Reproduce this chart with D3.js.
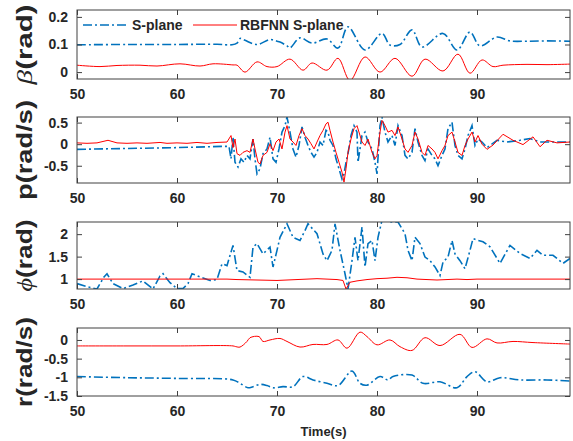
<!DOCTYPE html>
<html>
<head>
<meta charset="utf-8">
<script src="https://cdn.jsdelivr.net/npm/d3@7/dist/d3.min.js"></script>
<style>
  body { margin: 0; background: #fff; }
  text { font-family: Arial, "Liberation Sans", sans-serif; fill: #262626; }
</style>
</head>
<body>
<div id="chart"></div>
<script>
// ---- data ----
const xTicks = [50, 60, 70, 80, 90];

// beta (rad)
const betaSTime = [50, 55, 60, 64, 65.5, 66, 66.3, 66.8, 68, 69.3, 70, 70.3, 71, 71.3, 72.3, 73.5, 75, 76.1, 77.1, 78.8, 80.5, 81.3, 82.3, 83.5, 84.5, 86.6, 88, 89.3, 90.3, 92, 93.3, 95, 97, 99.3];
const betaS = [0.099, 0.1, 0.1, 0.101, 0.099, 0.105, 0.122, 0.115, 0.1, 0.118, 0.112, 0.109, 0.095, 0.088, 0.124, 0.105, 0.12, 0.087, 0.164, 0.08, 0.14, 0.098, 0.1, 0.153, 0.091, 0.14, 0.08, 0.145, 0.095, 0.127, 0.113, 0.112, 0.113, 0.112];
const betaRTime = [50, 52.3, 54, 56.3, 58, 60.3, 62.3, 63.6, 65.6, 66, 66.8, 68, 69, 70, 71.3, 72.6, 73.5, 75, 76.1, 77.3, 78.8, 80.3, 81.8, 83.5, 84.8, 86.6, 88.1, 89.3, 90.5, 91.6, 92.6, 95, 97, 99.3];
const betaR = [0.025, 0.02, 0.024, 0.025, 0.022, 0.03, 0.022, 0.03, 0.026, 0.025, 0.0, 0.037, 0.02, 0.02, 0.047, 0.007, 0.033, 0.007, 0.05, -0.03, 0.055, 0.0, 0.05, -0.015, 0.047, 0.004, 0.065, -0.004, 0.044, 0.02, 0.025, 0.028, 0.027, 0.029];

// p (rad/s)
const pSTime = [50, 55, 60, 64.6, 65.2, 65.4, 65.6, 65.8, 66.1, 66.4, 66.7, 67.0, 67.3, 67.6, 67.8, 68.0, 68.3, 68.6, 69.0, 69.3, 69.6, 69.9, 70.2, 70.5, 70.8, 71.0, 71.3, 71.6, 71.9, 72.2, 72.5, 72.8, 73.1, 73.4, 73.7, 74.0, 74.3, 74.6, 74.9, 75.1, 75.3, 75.6, 75.9, 76.2, 76.5, 76.7, 76.9, 77.1, 77.4, 77.7, 78.0, 78.1, 78.5, 78.8, 79.1, 79.5, 79.8, 80.0, 80.3, 80.5, 80.8, 81.1, 81.5, 81.8, 82.1, 82.5, 82.8, 83.1, 83.5, 83.8, 84.1, 84.5, 84.8, 85.1, 85.5, 85.8, 86.1, 86.5, 86.8, 87.1, 87.5, 87.8, 88.1, 88.5, 88.8, 89.1, 89.5, 89.8, 90.1, 90.5, 91.0, 92.0, 93.0, 94.3, 95.3, 96.3, 97.6, 99.3];
const pS = [-0.12, -0.1, -0.08, -0.05, -0.05, -0.34, 0.16, -0.42, -0.53, -0.34, -0.42, -0.26, -0.34, 0.12, -0.34, -0.69, -0.57, -0.22, -0.11, 0.16, -0.34, -0.42, -0.11, 0.28, 0.43, 0.63, 0.28, -0.11, -0.3, -0.03, 0.4, 0.16, -0.03, -0.19, -0.3, -0.19, 0.05, -0.03, 0.32, 0.28, 0.09, -0.03, -0.34, -0.57, -0.81, -0.69, -0.42, -0.22, 0.2, 0.43, 0.28, -0.42, 0.2, 0.28, 0.05, -0.11, -0.42, -0.69, 0.43, 0.63, 0.28, 0.05, 0.2, -0.03, 0.43, 0.2, -0.26, -0.34, -0.19, 0.36, 0.05, -0.26, -0.38, -0.11, -0.26, -0.34, -0.5, -0.26, -0.11, 0.36, 0.51, -0.03, -0.26, -0.34, -0.11, 0.2, 0.43, -0.03, 0.12, 0.05, -0.08, 0.09, 0.05, 0.09, 0.13, 0.05, 0.05, 0.05];
const pRTime = [50, 51, 52, 53.1, 54, 55, 56, 57, 58.3, 59, 60, 61, 62, 63, 64, 65.0, 65.4, 65.6, 65.8, 66.0, 66.3, 66.6, 67.0, 67.3, 67.6, 67.8, 68.1, 68.3, 68.6, 69.0, 69.3, 69.6, 69.9, 70.2, 70.5, 70.8, 71.0, 71.3, 71.6, 71.9, 72.2, 72.5, 72.8, 73.1, 73.4, 73.7, 74.0, 74.3, 74.6, 74.9, 75.1, 75.3, 75.6, 75.9, 76.2, 76.5, 76.7, 76.9, 77.1, 77.4, 77.7, 78.0, 78.5, 78.8, 79.1, 79.5, 79.8, 80.0, 80.3, 80.5, 80.8, 81.1, 81.5, 81.8, 82.1, 82.5, 82.8, 83.1, 83.5, 83.8, 84.1, 84.5, 84.8, 85.1, 85.5, 85.8, 86.1, 86.5, 86.8, 87.1, 87.5, 87.8, 88.1, 88.5, 88.8, 89.1, 89.5, 89.8, 90.1, 90.5, 91.0, 91.6, 92.6, 93.6, 94.6, 95.6, 96.3, 97.0, 98.0, 99.3];
const pR = [0.03, 0.02, 0.03, 0.09, 0.03, 0.02, 0.03, 0.02, 0.04, 0.02, 0.03, 0.02, 0.04, 0.02, 0.04, 0.05, 0.2, -0.08, 0.12, -0.22, -0.26, -0.19, -0.15, -0.19, 0.12, -0.11, -0.42, -0.46, -0.26, -0.19, 0.01, -0.15, 0.05, 0.12, -0.11, 0.28, 0.43, 0.12, 0.05, -0.03, 0.2, 0.36, 0.2, 0.12, 0.01, -0.11, 0.05, 0.2, 0.32, 0.47, 0.51, 0.32, 0.05, -0.19, -0.42, -0.65, -0.88, -0.57, -0.19, 0.12, 0.36, 0.43, 0.05, -0.03, 0.12, -0.19, -0.34, -0.26, 0.28, 0.55, 0.43, 0.28, 0.32, 0.2, 0.4, 0.12, -0.11, -0.19, -0.03, 0.28, 0.12, -0.19, -0.26, -0.03, -0.11, -0.19, -0.34, -0.15, -0.03, 0.2, 0.28, 0.05, -0.19, -0.26, -0.03, 0.12, 0.28, 0.05, 0.2, 0.0, -0.12, -0.02, 0.23, 0.09, -0.01, 0.17, -0.06, 0.09, 0.03, 0.05];

// phi (rad)
const phiSTime = [50, 51, 52, 52.7, 53, 53.6, 54.6, 55.6, 56.6, 57.6, 58.3, 58.6, 59.3, 60, 60.6, 61.1, 61.5, 62.3, 63.3, 64, 64.5, 65, 65.6, 66.0, 66.6, 67.3, 67.6, 68, 68.6, 69.3, 69.6, 70, 70.3, 71, 71.6, 72.3, 72.8, 73.1, 74, 74.6, 75, 75.5, 75.8, 76.3, 76.8, 77.1, 77.5, 77.8, 78.1, 78.5, 78.8, 79.1, 79.5, 79.8, 80.1, 80.5, 81.5, 82.1, 82.8, 83.1, 83.5, 83.8, 84.3, 84.8, 85.3, 85.8, 86.3, 86.6, 87.1, 87.5, 87.8, 88.3, 88.8, 89.3, 89.6, 90.1, 90.6, 91.3, 92.3, 93.3, 94.3, 95.3, 96, 96.6, 97.6, 98.6, 99.3];
const phiS = [0.9, 0.83, 0.78, 1.05, 1.12, 0.9, 0.79, 0.87, 0.96, 0.78, 1.07, 1.12, 0.92, 0.79, 0.79, 0.9, 1.12, 1.05, 0.97, 0.99, 1.34, 1.3, 1.75, 1.19, 1.16, 1.04, 1.71, 1.79, 1.56, 1.71, 1.27, 1.64, 1.93, 2.23, 1.93, 1.86, 2.08, 2.23, 2.01, 1.56, 1.41, 1.64, 2.23, 1.64, 1.12, 0.78, 1.41, 1.93, 1.41, 2.16, 1.27, 1.79, 1.86, 1.41, 1.93, 2.31, 2.27, 2.27, 2.01, 1.64, 1.41, 1.93, 1.79, 1.49, 1.41, 1.27, 1.08, 1.38, 1.49, 1.86, 1.56, 1.41, 1.23, 1.64, 1.9, 1.86, 1.83, 1.72, 1.35, 1.75, 1.57, 1.46, 1.64, 1.53, 1.53, 1.35, 1.46];
const phiRTime = [50, 65, 66, 68, 70, 72, 74, 76, 76.6, 76.9, 77.3, 78, 79, 80, 81, 82, 83, 84, 85, 86, 87, 88, 89, 90, 99.3];
const phiR = [1.0, 1.0, 0.99, 0.98, 0.97, 0.99, 1.01, 0.99, 0.97, 0.78, 0.93, 0.96, 0.99, 1.01, 1.02, 1.04, 1.03, 1.0, 0.99, 0.98, 0.99, 1.0, 0.99, 1.0, 1.0];

// r (rad/s)
const rSTime = [50, 55, 60, 65.6, 66.3, 67.1, 67.6, 68.3, 69, 69.6, 70.6, 71.6, 72.6, 73.6, 75, 76.1, 77.5, 78.3, 79, 80.3, 81.1, 81.6, 83.5, 84.6, 86.3, 88, 89, 89.8, 91, 92.3, 94.3, 97, 99.3];
const rS = [-0.98, -1.01, -1.03, -1.07, -1.16, -1.28, -1.25, -1.19, -1.22, -1.28, -1.25, -1.25, -0.98, -1.07, -1.16, -1.22, -0.83, -1.16, -1.21, -0.98, -1.07, -0.98, -0.94, -1.16, -1.12, -1.28, -0.98, -0.85, -1.12, -1.01, -1.07, -1.07, -1.1];
const rRTime = [50, 55, 60, 65.6, 65.9, 66.3, 67, 67.3, 68.2, 68.6, 69.3, 70.3, 71, 72.3, 73.6, 75, 76.1, 77, 78.3, 79, 80, 81.3, 82.3, 83.5, 84.8, 86.3, 88.3, 89.5, 91, 92, 93.6, 95.6, 99.3];
const rR = [-0.16, -0.16, -0.16, -0.16, -0.18, -0.19, -0.04, 0.06, 0.09, -0.04, 0.0, 0.04, -0.04, -0.19, -0.12, -0.12, 0.0, -0.22, 0.21, 0.09, -0.13, 0.0, -0.18, -0.28, 0.06, -0.15, 0.15, -0.2, 0.03, -0.08, -0.04, -0.07, -0.11];

const legendNames = ["S-plane", "RBFNN S-plane"];

// ---- layout ----
const width = 573, height = 441;
const left = 77, right = 570;
const blue = "#0072BD", red = "#FF0000";

const x = d3.scaleLinear().domain([50, 99.3]).range([left, right]);

const panels = [
  { top: 10, bottom: 79, domain: [-0.025, 0.225], ticks: [0, 0.1, 0.2], sym: "β", unit: "(rad)", len: 80,
    s: [betaSTime, betaS], r: [betaRTime, betaR], curve: d3.curveCatmullRom },
  { top: 117, bottom: 183, domain: [-0.9, 0.63], ticks: [-0.5, 0, 0.5], sym: null, unit: "p(rad/s)", len: 100,
    s: [pSTime, pS], r: [pRTime, pR], curve: d3.curveLinear },
  { top: 222, bottom: 289, domain: [0.78, 2.27], ticks: [1, 1.5, 2], sym: "ϕ", unit: "(rad)", len: 72,
    s: [phiSTime, phiS], r: [phiRTime, phiR], curve: d3.curveLinear },
  { top: 328, bottom: 396, domain: [-1.5, 0.32], ticks: [-1.5, -1, -0.5, 0], sym: null, unit: "r(rad/s)", len: 90,
    s: [rSTime, rS], r: [rRTime, rR], curve: d3.curveCatmullRom }
];

const svg = d3.select("#chart")
  .append("svg")
  .attr("width", width)
  .attr("height", height);

const axisColor = "#404040";

panels.forEach((p, i) => {
  const y = d3.scaleLinear().domain(p.domain).range([p.bottom, p.top]);
  const g = svg.append("g");

  g.append("clipPath").attr("id", "clip" + i)
    .append("rect")
    .attr("x", left).attr("y", p.top)
    .attr("width", right - left).attr("height", p.bottom - p.top);

  const line = (tArr) => d3.line()
    .x((d, k) => x(tArr[k]))
    .y(d => y(d))
    .curve(p.curve);

  const plot = g.append("g").attr("clip-path", `url(#clip${i})`);
  plot.append("path")
    .datum(p.s[1])
    .attr("d", line(p.s[0]))
    .attr("fill", "none")
    .attr("stroke", blue)
    .attr("stroke-width", 1.6)
    .attr("stroke-dasharray", "9,3,2,3");
  plot.append("path")
    .datum(p.r[1])
    .attr("d", line(p.r[0]))
    .attr("fill", "none")
    .attr("stroke", red)
    .attr("stroke-width", 1);

  // axes with inward ticks on all four sides (box on)
  g.append("g")
    .attr("transform", `translate(${left},0)`)
    .call(d3.axisLeft(y).tickValues(p.ticks).tickSizeInner(-5).tickSizeOuter(0).tickPadding(9).tickFormat(d => String(d).replace("−", "-")))
    .call(a => a.select(".domain").remove())
    .call(a => a.selectAll("line").attr("stroke", axisColor))
    .call(a => a.selectAll("text").attr("font-size", 14).attr("font-weight", "bold").attr("fill", "#262626").attr("font-family", "Arial, 'Liberation Sans', sans-serif"));
  g.append("g")
    .attr("transform", `translate(${right},0)`)
    .call(d3.axisRight(y).tickValues(p.ticks).tickSizeInner(-5).tickSizeOuter(0).tickFormat(""))
    .call(a => a.select(".domain").remove())
    .call(a => a.selectAll("line").attr("stroke", axisColor));
  g.append("g")
    .attr("transform", `translate(0,${p.bottom})`)
    .call(d3.axisBottom(x).tickValues(xTicks).tickSizeInner(-5).tickSizeOuter(0).tickPadding(10).tickFormat(d3.format("d")))
    .call(a => a.select(".domain").remove())
    .call(a => a.selectAll("line").attr("stroke", axisColor))
    .call(a => a.selectAll("text").attr("font-size", 14).attr("font-weight", "bold").attr("fill", "#262626").attr("font-family", "Arial, 'Liberation Sans', sans-serif"));
  g.append("g")
    .attr("transform", `translate(0,${p.top})`)
    .call(d3.axisTop(x).tickValues(xTicks).tickSizeInner(-5).tickSizeOuter(0).tickFormat(""))
    .call(a => a.select(".domain").remove())
    .call(a => a.selectAll("line").attr("stroke", axisColor));

  g.append("rect")
    .attr("x", left).attr("y", p.top)
    .attr("width", right - left).attr("height", p.bottom - p.top)
    .attr("fill", "none")
    .attr("stroke", axisColor)
    .attr("stroke-width", 1);

  // y label
  const lab = g.append("text")
    .attr("transform", `translate(32,${(p.top + p.bottom) / 2}) rotate(-90)`)
    .attr("text-anchor", "middle")
    .attr("font-size", 22)
    .attr("textLength", p.len)
    .attr("lengthAdjust", "spacingAndGlyphs");
  if (p.sym) {
    lab.append("tspan")
      .attr("font-family", "'Liberation Serif', 'DejaVu Serif', serif")
      .attr("font-style", "italic")
      .text(p.sym);
  }
  lab.append("tspan")
    .attr("font-weight", "bold")
    .text(p.unit);
});

// legend in the first panel
const leg = svg.append("g");
leg.append("line")
  .attr("x1", 83).attr("x2", 128).attr("y1", 25).attr("y2", 25)
  .attr("stroke", blue).attr("stroke-width", 1.6).attr("stroke-dasharray", "9,3,2,3");
leg.append("text")
  .attr("x", 132).attr("y", 30)
  .attr("font-size", 14).attr("font-weight", "bold")
  .text(legendNames[0]);
leg.append("line")
  .attr("x1", 193).attr("x2", 237).attr("y1", 25).attr("y2", 25)
  .attr("stroke", red).attr("stroke-width", 1);
leg.append("text")
  .attr("x", 240).attr("y", 30)
  .attr("font-size", 14).attr("font-weight", "bold")
  .text(legendNames[1]);

svg.append("text")
  .attr("x", (left + right) / 2)
  .attr("y", 436)
  .attr("text-anchor", "middle")
  .attr("font-size", 13)
  .attr("font-weight", "bold")
  .text("Time(s)");
</script>
</body>
</html>
